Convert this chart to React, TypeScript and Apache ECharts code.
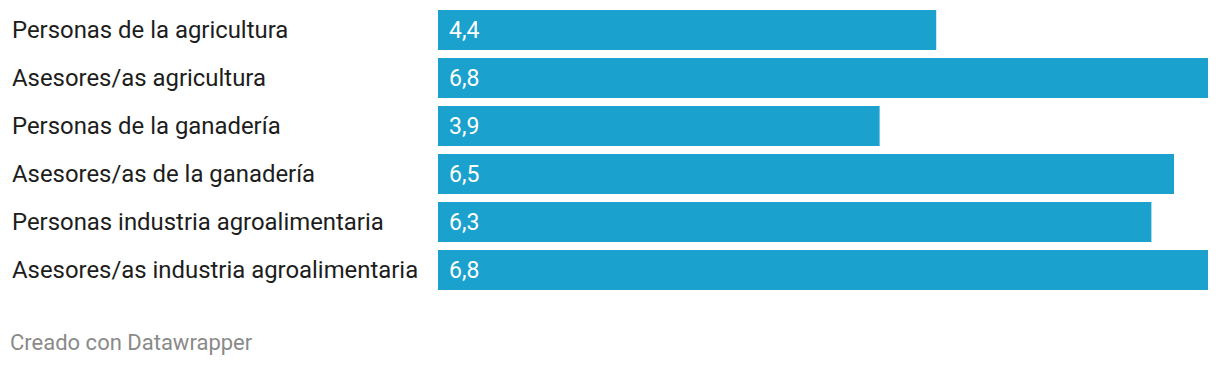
import React, { useEffect, useRef } from "react";
import * as echarts from "echarts";

const categories = [
  "Personas de la agricultura",
  "Asesores/as agricultura",
  "Personas de la ganadería",
  "Asesores/as de la ganadería",
  "Personas industria agroalimentaria",
  "Asesores/as industria agroalimentaria",
];
const values = [4.4, 6.8, 3.9, 6.5, 6.3, 6.8];
const footerText = "Creado con Datawrapper";

export default function App() {
  const ref = useRef<HTMLDivElement>(null);
  useEffect(() => {
    const chart = echarts.init(ref.current!, null, { renderer: "svg" });
    chart.setOption({
      animation: false,
      textStyle: { fontFamily: "Roboto" },
      grid: { left: 438, right: 12, top: 6, height: 288 },
      xAxis: {
        type: "value",
        min: 0,
        max: 6.8,
        show: false,
      },
      yAxis: {
        type: "category",
        data: categories,
        inverse: true,
        axisLine: { show: false },
        axisTick: { show: false },
        axisLabel: {
          align: "left",
          margin: 426,
          fontSize: 23.9,
          color: "#1d1d1d",
          fontFamily: "Roboto",
        },
      },
      series: [
        {
          type: "bar",
          data: values,
          barCategoryGap: "16.67%",
          itemStyle: { color: "#1aa1cd" },
          label: {
            show: true,
            position: "insideLeft",
            distance: 11,
            color: "#ffffff",
            fontSize: 23,
            fontFamily: "Roboto",
            formatter: (p: any) => String(p.value).replace(".", ","),
          },
        },
      ],
      graphic: [
        {
          type: "text",
          left: 10,
          top: 331,
          style: {
            text: footerText,
            fill: "#8a8a8a",
            fontSize: 22,
            fontFamily: "Roboto",
          },
        },
      ],
    });
    return () => chart.dispose();
  }, []);
  return (
    <div
      ref={ref}
      style={{ position: "absolute", left: 0, top: 0, width: 1220, height: 366, background: "#fff" }}
    />
  );
}
